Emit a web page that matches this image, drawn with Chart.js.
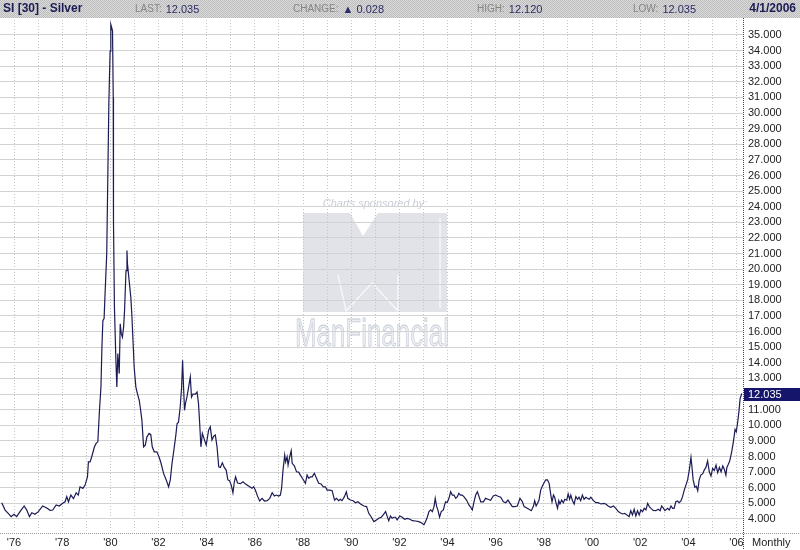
<!DOCTYPE html>
<html><head><meta charset="utf-8">
<script src="https://cdn.jsdelivr.net/npm/chart.js@4/dist/chart.umd.min.js"></script>
<style>html,body{margin:0;padding:0;background:#fff}#wrap{width:800px;height:550px}</style>
</head><body><div id="wrap"><canvas id="c" width="800" height="550"></canvas></div>
<script>
// ---- data ----
const months = [
1975.49,1975.63,1975.76,1975.88,1976.00,1976.11,1976.25,1976.42,1976.53,1976.64,1976.74,1976.87,
1977.01,1977.19,1977.36,1977.50,1977.61,1977.75,1977.88,1978.02,1978.12,1978.19,1978.26,1978.36,
1978.47,1978.58,1978.67,1978.74,1978.86,1978.95,1979.05,1979.09,1979.16,1979.23,1979.34,1979.41,
1979.48,1979.52,1979.55,1979.61,1979.65,1979.69,1979.74,1979.78,1979.85,1979.90,1979.94,1979.99,
1980.02,1980.06,1980.09,1980.12,1980.13,1980.17,1980.23,1980.27,1980.31,1980.37,1980.41,1980.45,
1980.50,1980.55,1980.59,1980.65,1980.69,1980.71,1980.78,1980.85,1980.89,1980.94,1980.99,1981.06,
1981.13,1981.20,1981.24,1981.31,1981.38,1981.45,1981.52,1981.61,1981.68,1981.74,1981.82,1981.93,
1982.02,1982.10,1982.21,1982.32,1982.42,1982.49,1982.56,1982.62,1982.72,1982.77,1982.83,1982.90,
1982.96,1983.00,1983.04,1983.08,1983.12,1983.18,1983.25,1983.32,1983.37,1983.43,1983.53,1983.60,
1983.66,1983.71,1983.76,1983.82,1983.90,1983.98,1984.08,1984.15,1984.22,1984.29,1984.36,1984.43,
1984.50,1984.57,1984.65,1984.73,1984.81,1984.88,1984.95,1985.02,1985.09,1985.15,1985.20,1985.28,
1985.40,1985.51,1985.60,1985.74,1985.88,1985.95,1986.02,1986.12,1986.20,1986.30,1986.40,1986.51,
1986.62,1986.72,1986.81,1986.89,1986.99,1987.06,1987.11,1987.17,1987.24,1987.28,1987.34,1987.38,
1987.45,1987.51,1987.55,1987.64,1987.73,1987.82,1987.89,1988.00,1988.10,1988.17,1988.24,1988.31,
1988.38,1988.47,1988.56,1988.65,1988.75,1988.84,1988.93,1989.00,1989.11,1989.21,1989.31,1989.39,
1989.48,1989.55,1989.62,1989.72,1989.80,1989.86,1989.97,1990.08,1990.18,1990.28,1990.39,1990.53,
1990.64,1990.73,1990.84,1990.94,1991.05,1991.15,1991.25,1991.33,1991.43,1991.50,1991.56,1991.63,
1991.70,1991.77,1991.84,1991.91,1992.02,1992.12,1992.22,1992.33,1992.44,1992.54,1992.67,1992.81,
1992.95,1993.02,1993.09,1993.16,1993.23,1993.30,1993.37,1993.44,1993.49,1993.55,1993.60,1993.67,
1993.74,1993.83,1993.88,1993.92,1993.99,1994.06,1994.13,1994.20,1994.27,1994.34,1994.41,1994.47,
1994.54,1994.61,1994.68,1994.79,1994.89,1994.96,1995.03,1995.10,1995.17,1995.24,1995.31,1995.38,
1995.49,1995.58,1995.68,1995.79,1995.90,1996.00,1996.10,1996.21,1996.32,1996.42,1996.51,1996.60,
1996.69,1996.79,1996.90,1997.01,1997.11,1997.18,1997.29,1997.38,1997.48,1997.57,1997.62,1997.68,
1997.74,1997.80,1997.87,1997.94,1998.01,1998.08,1998.15,1998.22,1998.29,1998.34,1998.40,1998.45,
1998.51,1998.57,1998.62,1998.67,1998.74,1998.81,1998.87,1998.95,1999.01,1999.07,1999.12,1999.19,
1999.26,1999.33,1999.40,1999.46,1999.53,1999.60,1999.67,1999.74,1999.81,1999.88,1999.95,2000.06,
2000.16,2000.25,2000.37,2000.48,2000.57,2000.67,2000.78,2000.89,2000.99,2001.09,2001.17,2001.27,
2001.36,2001.45,2001.54,2001.61,2001.68,2001.75,2001.82,2001.89,2001.96,2002.03,2002.10,2002.17,
2002.24,2002.31,2002.38,2002.45,2002.54,2002.65,2002.75,2002.83,2002.89,2002.97,2003.03,2003.14,
2003.21,2003.28,2003.35,2003.41,2003.48,2003.55,2003.62,2003.69,2003.76,2003.83,2003.90,2003.97,
2004.04,2004.11,2004.15,2004.20,2004.27,2004.33,2004.39,2004.45,2004.52,2004.60,2004.66,2004.73,
2004.80,2004.87,2004.94,2005.01,2005.08,2005.15,2005.22,2005.29,2005.36,2005.43,2005.49,2005.56,
2005.60,2005.66,2005.72,2005.80,2005.87,2005.94,2005.99,2006.05,2006.10,2006.15,2006.22
];
const prices = [
5.04,4.57,4.36,4.15,4.30,4.15,4.47,4.83,4.57,4.15,4.40,4.30,
4.47,4.83,4.70,4.55,4.57,4.90,4.83,5.00,5.10,5.43,5.10,5.53,
5.30,5.68,5.53,6.06,5.96,6.17,6.70,7.66,7.66,8.00,8.62,8.84,
8.94,10.10,11.00,12.45,15.00,16.70,16.84,18.40,21.00,26.50,30.80,33.97,
35.67,35.46,35.25,31.00,23.10,17.56,14.16,12.45,14.60,13.31,16.50,15.90,
15.65,16.29,17.35,19.90,21.20,20.36,19.27,18.20,17.16,15.44,13.70,12.45,
12.00,11.60,11.17,10.33,8.62,8.73,9.26,9.48,9.40,8.62,8.30,8.30,
7.98,7.60,6.92,6.50,6.06,6.50,7.56,8.20,9.37,10.10,10.20,11.17,
12.45,14.16,12.45,10.96,11.40,11.80,12.45,13.10,11.80,12.00,12.00,12.13,
11.40,10.10,8.62,9.48,9.10,8.73,9.69,9.90,9.05,9.30,9.37,8.62,
7.34,7.30,7.60,7.30,7.13,6.50,6.45,6.17,5.68,6.38,6.70,6.30,
6.26,6.38,6.25,6.11,5.96,6.06,5.85,5.43,5.15,5.32,5.15,5.17,
5.32,5.68,5.47,5.53,5.47,5.53,5.96,7.13,8.09,7.66,7.98,7.45,
8.00,8.37,7.56,7.40,7.02,7.00,6.81,6.54,6.28,6.81,6.60,6.70,
6.70,6.92,6.60,6.28,6.24,6.06,6.06,5.85,5.85,5.81,5.21,5.32,
5.17,5.26,5.17,5.43,5.74,5.32,5.21,5.17,5.04,5.10,4.96,4.83,
4.79,4.36,4.11,3.83,3.94,4.04,4.11,4.26,4.47,4.15,3.89,4.19,
4.05,4.11,4.11,3.94,4.19,4.11,3.98,4.04,3.98,3.89,3.87,3.83,
3.72,3.62,3.83,4.11,4.47,4.58,4.47,4.79,5.32,4.79,4.58,4.11,
4.47,4.58,4.90,5.10,5.05,5.32,5.74,5.53,5.53,5.32,5.43,5.64,
5.53,5.53,5.43,5.21,4.90,4.75,4.58,5.10,5.53,5.74,5.43,5.10,
5.10,5.32,5.26,5.19,5.47,5.53,5.45,5.39,5.10,5.04,5.21,5.00,
4.79,4.79,4.83,5.32,5.10,4.79,4.70,4.62,4.53,4.83,5.17,4.83,
5.00,5.21,5.85,6.11,6.32,6.50,6.50,6.28,5.53,5.10,5.53,5.39,
5.00,4.68,5.17,4.96,5.21,5.04,5.26,5.20,5.60,5.26,5.53,5.17,
4.96,5.43,5.26,5.39,5.17,5.53,5.26,5.39,5.32,5.26,5.39,5.17,
5.04,5.04,4.96,5.00,4.96,4.83,4.75,4.83,4.68,4.47,4.40,4.32,
4.36,4.26,4.15,4.53,4.26,4.62,4.19,4.53,4.26,4.58,4.47,4.68,
4.58,5.00,4.79,4.68,4.55,4.53,4.62,4.53,4.83,4.68,4.53,4.68,
4.58,4.83,4.68,4.68,5.10,5.15,5.04,5.15,5.43,5.85,6.17,6.50,
7.13,7.94,7.34,6.50,6.03,6.10,5.81,6.50,6.81,6.90,7.13,7.30,
7.72,7.02,6.75,7.24,7.10,7.45,6.96,7.30,7.02,7.39,7.20,6.81,
7.30,7.50,7.72,8.30,8.94,9.73,9.58,10.22,10.86,11.71,12.035
];
const yearTicks = [];
for (let y = 1976; y <= 2006; y++) yearTicks.push(y);
const priceTicks = [];
for (let v = 4; v <= 35; v++) priceTicks.push(v);
const lastPrice = 12.035;
const titleText = 'SI [30] - Silver';
const headerFields = [['LAST:', '12.035'], ['CHANGE:', '\u25B2 0.028'], ['HIGH:', '12.120'], ['LOW:', '12.035']];
const dateText = '4/1/2006';
const periodText = 'Monthly';
const sponsorText = 'Charts sponsored by:';
const brandText = 'ManFinancial';

const FONT = '"Liberation Sans", Arial, sans-serif';
const NAVY = '#1b1b55';

const decor = {
  id: 'decor',
  beforeDraw(chart) {
    const ctx = chart.ctx;
    ctx.save();
    ctx.fillStyle = '#ffffff';
    ctx.fillRect(0, 0, 800, 550);
    // header bar (dithered grey)
    const pc = document.createElement('canvas'); pc.width = 2; pc.height = 2;
    const p = pc.getContext('2d');
    p.fillStyle = '#dadada'; p.fillRect(0, 0, 2, 2);
    p.fillStyle = '#bdbdbd'; p.fillRect(0, 0, 1, 1); p.fillRect(1, 1, 1, 1);
    ctx.fillStyle = ctx.createPattern(pc, 'repeat');
    ctx.fillRect(0, 0, 800, 18);
    // watermark
    ctx.fillStyle = '#c9cdd6';
    ctx.font = 'italic 11px ' + FONT;
    ctx.textAlign = 'center'; ctx.textBaseline = 'middle';
    ctx.fillText(sponsorText, 375, 204);
    ctx.fillStyle = '#e1e3e9';
    ctx.beginPath();
    ctx.moveTo(303, 213); ctx.lineTo(350, 213); ctx.lineTo(363, 236); ctx.lineTo(378, 213);
    ctx.lineTo(447, 213); ctx.lineTo(447, 312); ctx.lineTo(303, 312); ctx.closePath();
    ctx.fill();
    ctx.strokeStyle = '#f6f7f9'; ctx.lineWidth = 1.5;
    ctx.beginPath();
    ctx.moveTo(338, 275); ctx.lineTo(346, 311);
    ctx.moveTo(346, 311); ctx.lineTo(372, 283); ctx.lineTo(398, 311);
    ctx.moveTo(398, 275); ctx.lineTo(398, 311);
    ctx.moveTo(440, 218); ctx.lineTo(440, 308);
    ctx.stroke();
    ctx.font = '38px ' + FONT;
    ctx.textAlign = 'left'; ctx.textBaseline = 'alphabetic';
    ctx.fillStyle = '#eceef2';
    ctx.fillText(brandText, 295, 346, 154);
    ctx.strokeStyle = '#c6cbd6'; ctx.lineWidth = 0.8;
    ctx.strokeText(brandText, 295, 346, 154);
    ctx.restore();
  },
  afterDraw(chart) {
    const ctx = chart.ctx;
    const ca = chart.chartArea;
    ctx.save();
    // axis borders
    ctx.setLineDash([1, 1]);
    ctx.lineWidth = 1;
    ctx.strokeStyle = '#9a9a9a';
    ctx.beginPath(); ctx.moveTo(0, ca.bottom + 0.5); ctx.lineTo(800, ca.bottom + 0.5); ctx.stroke();
    ctx.strokeStyle = '#444';
    ctx.beginPath(); ctx.moveTo(ca.right + 0.5, 18); ctx.lineTo(ca.right + 0.5, 550); ctx.stroke();
    ctx.setLineDash([]);
    // header text
    ctx.textBaseline = 'middle';
    ctx.textAlign = 'left';
    ctx.fillStyle = NAVY;
    ctx.font = 'bold 12px ' + FONT;
    ctx.fillText(titleText, 3, 9);
    ctx.textAlign = 'right';
    ctx.fillText(dateText, 796, 9);
    ctx.textAlign = 'left';
    const xs = [135, 293, 477, 633];
    headerFields.forEach((f, i) => {
      ctx.font = '10px ' + FONT;
      ctx.fillStyle = '#858585';
      ctx.fillText(f[0], xs[i], 9.5);
      const w = ctx.measureText(f[0]).width;
      ctx.font = '11px ' + FONT;
      ctx.fillStyle = '#2c2c66';
      ctx.fillText(f[1], xs[i] + w + 4, 9.5);
    });
    // last price highlight on the price axis
    const y = chart.scales.y.getPixelForValue(lastPrice);
    ctx.fillStyle = '#15156b';
    ctx.fillRect(ca.right + 1, Math.round(y) - 6, 800 - ca.right - 1, 13);
    ctx.fillStyle = '#ffffff';
    ctx.font = '11px ' + FONT;
    ctx.fillText(lastPrice.toFixed(3), ca.right + 5, Math.round(y) + 0.5);
    // period label
    ctx.fillStyle = '#222';
    ctx.fillText(periodText, 752, 543);
    ctx.restore();
  }
};

new Chart(document.getElementById('c'), {
  type: 'line',
  data: {
    datasets: [{
      data: months.map((m, i) => ({ x: m, y: prices[i] })),
      borderColor: NAVY,
      borderWidth: 1.2,
      pointRadius: 0,
      tension: 0,
      fill: false
    }]
  },
  options: {
    responsive: false,
    animation: false,
    devicePixelRatio: 1,
    layout: { padding: { top: 20, left: 0, right: 0, bottom: 0 } },
    plugins: { legend: { display: false }, tooltip: { enabled: false } },
    scales: {
      x: {
        type: 'linear',
        position: 'bottom',
        min: 1975.418,
        max: 2006.27,
        afterBuildTicks: s => { s.ticks = yearTicks.map(v => ({ value: v })); },
        afterFit: s => { s.height = 17; },
        ticks: {
          autoSkip: false, maxRotation: 0, padding: 3,
          color: '#222', font: { family: FONT, size: 11 },
          callback: v => (v % 2 === 0 ? "'" + String(v).slice(2) : '')
        },
        grid: { color: '#c4c4c4', drawTicks: false },
        border: { display: false, dash: [1, 2] }
      },
      y: {
        type: 'linear',
        position: 'right',
        min: 3.1,
        max: 35.96,
        afterBuildTicks: s => { s.ticks = priceTicks.map(v => ({ value: v })); },
        afterFit: s => { s.width = 57; },
        ticks: {
          padding: 5, color: '#222', font: { family: FONT, size: 11 },
          callback: v => Number(v).toFixed(3)
        },
        grid: { color: '#d2d2d2', drawTicks: false },
        border: { display: false }
      }
    }
  },
  plugins: [decor]
});
</script>
</body></html>
